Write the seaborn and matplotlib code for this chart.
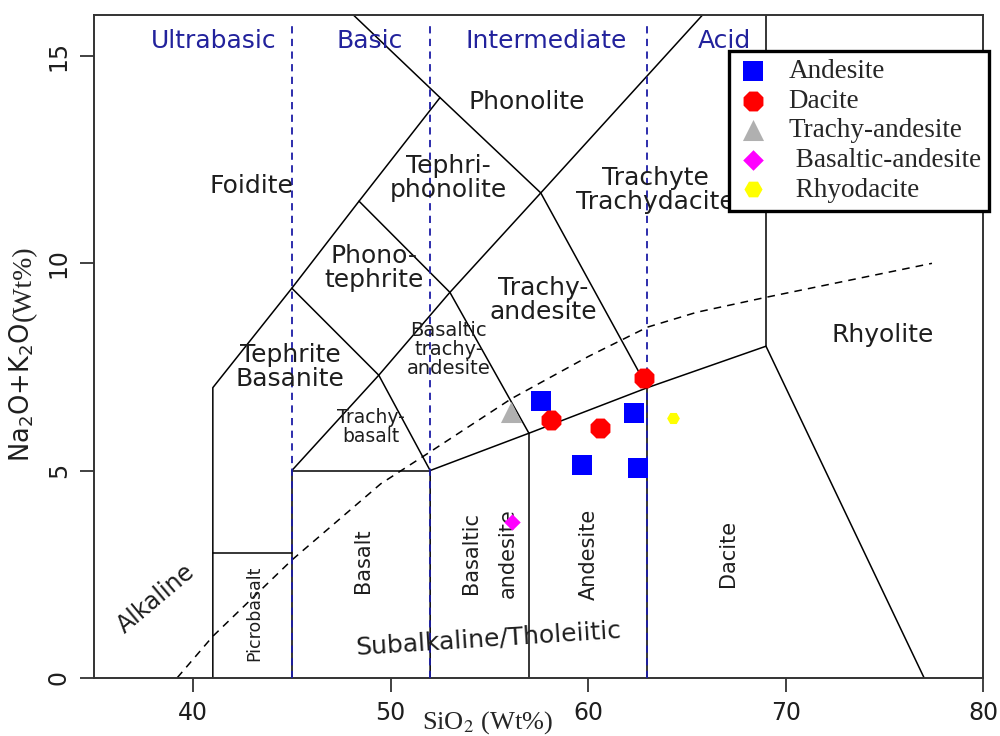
import numpy as np
import pandas as pd
import matplotlib
matplotlib.use("Agg")
import matplotlib.pyplot as plt
import seaborn as sns

# sample data (SiO2, Na2O+K2O)
andesite_sio2 = [57.6, 62.3, 59.7, 62.5]
andesite_alk = [6.68, 6.40, 5.14, 5.07]
dacite_sio2 = [62.8, 58.1, 60.6]
dacite_alk = [7.24, 6.21, 6.02]
trachy_andesite_sio2 = [56.1]
trachy_andesite_alk = [6.42]
basaltic_andesite_sio2 = [56.15]
basaltic_andesite_alk = [3.76]
rhyodacite_sio2 = [64.3]
rhyodacite_alk = [6.27]

# TAS field boundaries (Le Bas et al.)
foidite_line = [(41, 0), (41, 7), (45, 9.4), (48.4, 11.5), (52.5, 14)]
phonolite_line = [(48.1, 16), (52.5, 14), (57.6, 11.7), (63, 7)]
trachyte_line = [(45, 5), (49.4, 7.3), (53, 9.3), (57.6, 11.7), (65.8, 16)]
tephrite_line = [(45, 9.4), (49.4, 7.3), (52, 5)]
phonotephrite_line = [(48.4, 11.5), (53, 9.3), (57, 5.9)]
picrobasalt_line = [(41, 3), (45, 3)]
basalt_line = [(45, 0), (45, 5), (52, 5)]
subalkaline_top = [(52, 0), (52, 5), (57, 5.9), (63, 7), (69, 8), (77, 0)]
andesite_line = [(57, 0), (57, 5.9)]
dacite_line = [(63, 0), (63, 7)]
rhyolite_line = [(69, 8), (69, 16)]
boundaries = [foidite_line, phonolite_line, trachyte_line, tephrite_line,
              phonotephrite_line, picrobasalt_line, basalt_line,
              subalkaline_top, andesite_line, dacite_line, rhyolite_line]

# alkaline / subalkaline divide (Irvine & Baragar)
ib_sio2 = [39.2, 41, 45, 49.5, 52, 56.1, 60, 63, 65.5, 69, 77.4]
ib_alk = [0, 1.0, 2.84, 4.68, 5.45, 6.73, 7.75, 8.46, 8.82, 9.18, 10.0]

silica_classes = ["Ultrabasic", "Basic", "Intermediate", "Acid"]
silica_class_x = [41.06, 48.96, 57.87, 66.9]
silica_limits = [45, 52, 63]

sns.set_style("ticks")
plt.rcParams["font.family"] = ["DejaVu Sans"]

fig = plt.figure(figsize=(10, 7.36), dpi=100)
ax = fig.add_axes([0.0943, 0.0792, 0.889, 0.9008])

for seg in boundaries:
    xs, ys = zip(*seg)
    ax.plot(xs, ys, color="black", lw=1.1, zorder=2)

ax.plot(ib_sio2, ib_alk, color="black", lw=1.1, ls=(0, (5, 4)), zorder=2)

for xv in silica_limits:
    ax.plot([xv, xv], [0, 15.85], color="#1c1ca6", lw=1.3, ls=(0, (4, 3)), zorder=3)

blue_txt = "#22229c"
for name, xv in zip(silica_classes, silica_class_x):
    ax.text(xv, 15.2, name, color=blue_txt, fontsize=18, ha="center", va="baseline")

lab = dict(color="#1e1e1e", ha="center", va="baseline", linespacing=1.0)
ax.text(56.87, 13.72, "Phonolite", fontsize=18, **lab)
ax.text(42.93, 11.69, "Foidite", fontsize=18, **lab)
ax.text(52.9, 11.59, "Tephri-\nphonolite", fontsize=18, **lab)
ax.text(63.4, 11.3, "Trachyte\nTrachydacite", fontsize=18, **lab)
ax.text(49.17, 9.42, "Phono-\ntephrite", fontsize=18, **lab)
ax.text(57.73, 8.66, "Trachy-\nandesite", fontsize=18, **lab)
ax.text(74.9, 8.1, "Rhyolite", fontsize=18, **lab)
ax.text(44.92, 7.05, "Tephrite\nBasanite", fontsize=18, **lab)
ax.text(52.93, 7.33, "Basaltic\ntrachy-\nandesite", fontsize=14, **lab)
ax.text(49.0, 5.69, "Trachy-\nbasalt", fontsize=13.5, **lab)

rot = dict(color="#1e1e1e", ha="center", va="center", rotation=90)
ax.text(43.1, 1.56, "Picrobasalt", fontsize=12.5, **rot)
ax.text(48.59, 2.83, "Basalt", fontsize=15, **rot)
ax.text(54.07, 3.0, "Basaltic", fontsize=15, **rot)
ax.text(55.93, 3.0, "andesite", fontsize=15, **rot)
ax.text(60.03, 2.98, "Andesite", fontsize=15, **rot)
ax.text(67.1, 3.0, "Dacite", fontsize=15, **rot)
ax.text(38.13, 1.9, "Alkaline", fontsize=17, color="#1e1e1e",
        ha="center", va="center", rotation=40)
ax.text(54.97, 0.94, "Subalkaline/Tholeiitic", fontsize=18, color="#1e1e1e",
        ha="center", va="center", rotation=3.7)

# samples
groups = [
    ("Andesite", andesite_sio2, andesite_alk, "s", "#0000ff", 190),
    ("Dacite", dacite_sio2, dacite_alk, "8", "#ff0000", 240),
    ("Trachy-andesite", trachy_andesite_sio2, trachy_andesite_alk, "^", "#b0b0b0", 230),
    (" Basaltic-andesite", basaltic_andesite_sio2, basaltic_andesite_alk, "D", "#ff00ff", 70),
    (" Rhyodacite", rhyodacite_sio2, rhyodacite_alk, "H", "#ffff00", 85),
]
for name, xs, ys, mk, col, size in groups:
    df = pd.DataFrame({"SiO2": xs, "alk": ys})
    sns.scatterplot(data=df, x="SiO2", y="alk", marker=mk, color=col, s=size,
                    linewidth=0, label=name, ax=ax, zorder=5)

ax.set_xlim(35, 80)
ax.set_ylim(0, 16)
ax.set_xticks([40, 50, 60, 70, 80])
ax.set_yticks([0, 5, 10, 15])
ax.set_xlabel("")
ax.set_ylabel("")
for s in ax.spines.values():
    s.set_visible(True)
    s.set_color("#333333")
    s.set_linewidth(1.4)
ax.tick_params(axis="both", direction="out", length=10, width=1.3,
               color="#333333", labelsize=17, labelcolor="#1e1e1e", pad=7)
for t in ax.get_yticklabels():
    t.set_rotation(90)
    t.set_va("center")

leg = ax.legend(loc="upper left", bbox_to_anchor=(0.729, 0.9307),
                bbox_transform=fig.transFigure, borderaxespad=0,
                frameon=True, fancybox=False, framealpha=1,
                prop={"family": "Liberation Serif", "size": 19.5},
                borderpad=0.3, labelspacing=0.17, handlelength=1.2,
                handletextpad=0.7)
leg.get_frame().set_edgecolor("black")
leg.get_frame().set_linewidth(2.4)
leg.legend_handles[4].set_sizes([170])
leg.legend_handles[3].set_sizes([110])

fig.text(0.488, 0.0, "SiO$_2$ (Wt%)", fontsize=19, family="Liberation Serif",
         math_fontfamily="stix", ha="center", va="bottom")

t1 = fig.text(0.022, 0.372, "Na$_2$O+K$_2$O", fontsize=18.5, rotation=90,
              ha="center", va="bottom", color="#1e1e1e")
fig.canvas.draw()
bb = t1.get_window_extent()
fig.text(0.024, bb.y1 / fig.bbox.height + 0.002, "(Wt%)", fontsize=20,
         family="Liberation Serif", rotation=90, ha="center", va="bottom")

fig.savefig("out.png", dpi=100)
